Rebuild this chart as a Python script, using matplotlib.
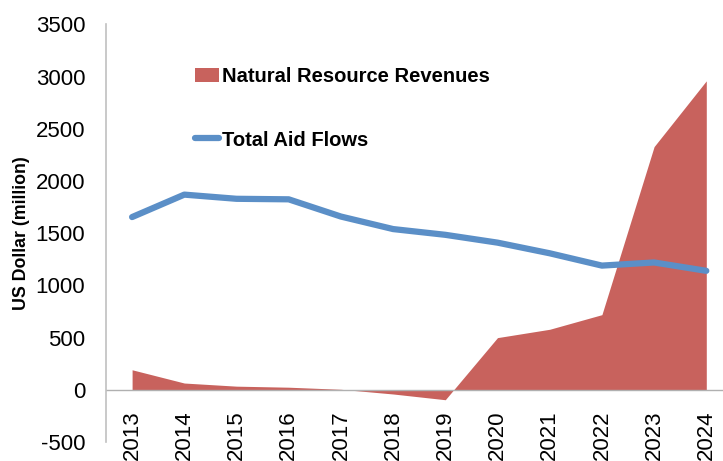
import numpy as np
from matplotlib import pyplot as plt
from matplotlib.patches import Patch
from matplotlib.lines import Line2D

plt.rcParams['font.family'] = ['Liberation Sans', 'DejaVu Sans']
plt.rcParams['axes.unicode_minus'] = False

# datos
anios = ['2013', '2014', '2015', '2016', '2017', '2018', '2019',
         '2020', '2021', '2022', '2023', '2024']
recursos = [192, 65, 35, 25, 5, -40, -95, 500, 580, 720, 2330, 2960]
ayuda = [1655, 1870, 1830, 1825, 1660, 1540, 1485, 1410, 1308, 1190, 1220, 1140]

x = np.arange(len(anios))

fig = plt.figure(figsize=(7.23, 4.61), dpi=100)
ax = fig.add_axes([0.1466, 0.0412, 0.8664, 0.9057])

rojo = '#c8625d'
azul = '#5b8fc7'

ax.fill_between(x, 0, recursos, color=rojo, linewidth=0)
ax.plot(x, ayuda, color=azul, linewidth=4.5, solid_capstyle='round')
ax.axhline(0, color='#b0b0b0', linewidth=1)

ax.set_xlim(-0.5, 11.5)
ax.set_ylim(-500, 3500)
ax.set_yticks(np.arange(-500, 3501, 500))
ax.set_xticks(x)
ax.set_xticklabels(anios, rotation=90, fontsize=16)
ax.tick_params(axis='y', labelsize=16, length=0, pad=15)
ax.tick_params(axis='x', length=0, pad=-23)

for s in ['top', 'right', 'bottom']:
    ax.spines[s].set_visible(False)
ax.spines['left'].set_color('#c0c0c0')
ax.spines['left'].set_linewidth(1.2)

ax.set_ylabel('US Dollar (million)', fontsize=12.8, fontweight='bold', labelpad=4)

# leyenda
handles = [Patch(facecolor=rojo, edgecolor='none'),
           Line2D([0], [0], color=azul, linewidth=4.5, solid_capstyle='round')]
ax.legend(handles, ['Natural Resource Revenues', 'Total Aid Flows'],
          loc='upper left', bbox_to_anchor=(0.113, 0.941), frameon=False,
          prop={'size': 14.5, 'weight': 'bold'}, labelspacing=2.2,
          handlelength=1.2, handletextpad=0.15)

plt.savefig('out.png', dpi=100)
